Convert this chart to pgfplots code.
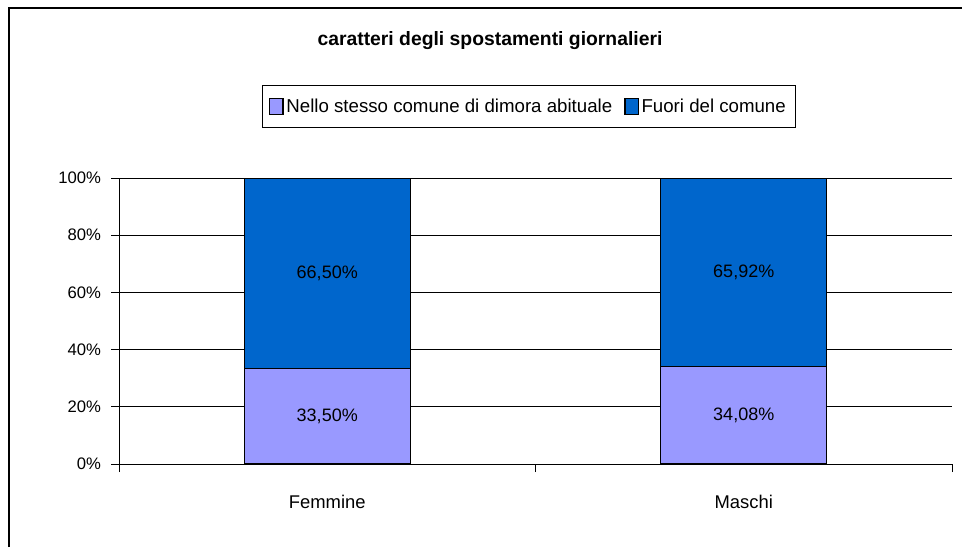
\documentclass[border=0pt]{standalone}
\usepackage{fontspec}
\setmainfont{Liberation Sans}
\usepackage{pgfplots}
\pgfplotsset{compat=1.18}
\definecolor{lilla}{HTML}{9999FF}
\definecolor{blu}{HTML}{0066CC}
\begin{document}
\begin{tikzpicture}
\path[use as bounding box] (0,0) rectangle (721.5pt,410.25pt);
% cornice del grafico
\draw[line width=1.1pt] (6.75pt,0) -- (6.75pt,404.25pt) -- (721.5pt,404.25pt);
\node[font=\bfseries\fontsize{14.5}{17}\selectfont] at (367.5pt,379.5pt) {caratteri degli spostamenti giornalieri};
\begin{axis}[
    at={(89.25pt,62.25pt)}, anchor=south west,
    scale only axis, width=624.75pt, height=214.5pt,
    ybar stacked, bar width=124.5pt,
    xmin=-0.5, xmax=1.5, ymin=0, ymax=100,
    axis x line=bottom, axis y line=left,
    axis line style={-, line width=0.6pt},
    xtick={-0.5,0.5,1.5}, xticklabels={},
    extra x ticks={0,1}, extra x tick labels={Femmine,Maschi},
    extra x tick style={major tick length=0pt,
        xticklabel style={yshift=-20pt, font=\fontsize{13.8}{16}\selectfont}},
    ytick={0,20,40,60,80,100},
    yticklabels={0\%,20\%,40\%,60\%,80\%,100\%},
    yticklabel style={xshift=-4pt},
    tick align=outside, major tick length=6pt,
    tick style={black, line width=0.6pt},
    ymajorgrids, grid style={black, line width=0.6pt},
    ticklabel style={font=\fontsize{12.5}{15}\selectfont},
    legend style={at={(0.1717,1.325)}, anchor=north west, legend columns=2,
        draw=black, line width=0.6pt, inner xsep=5pt, inner ysep=8pt,
        font=\fontsize{14}{16}\selectfont,
        /tikz/every even column/.append style={column sep=7pt}},
    legend image code/.code={\draw[#1, line width=1pt] (0pt,-6pt) rectangle (10pt,6pt);},
    point meta=explicit symbolic,
    nodes near coords,
    every node near coord/.append style={font=\fontsize{13.5}{16}\selectfont, black,
        anchor=center},
]
\addplot[fill=lilla, draw=black, line width=1pt] coordinates {
    (0,33.50) [{33,50\%}]
    (1,34.08) [{34,08\%}]
};
\addplot[fill=blu, draw=black, line width=1pt] coordinates {
    (0,66.50) [{66,50\%}]
    (1,65.92) [{65,92\%}]
};
\legend{Nello stesso comune di dimora abituale, Fuori del comune}
\end{axis}
\end{tikzpicture}
\end{document}
